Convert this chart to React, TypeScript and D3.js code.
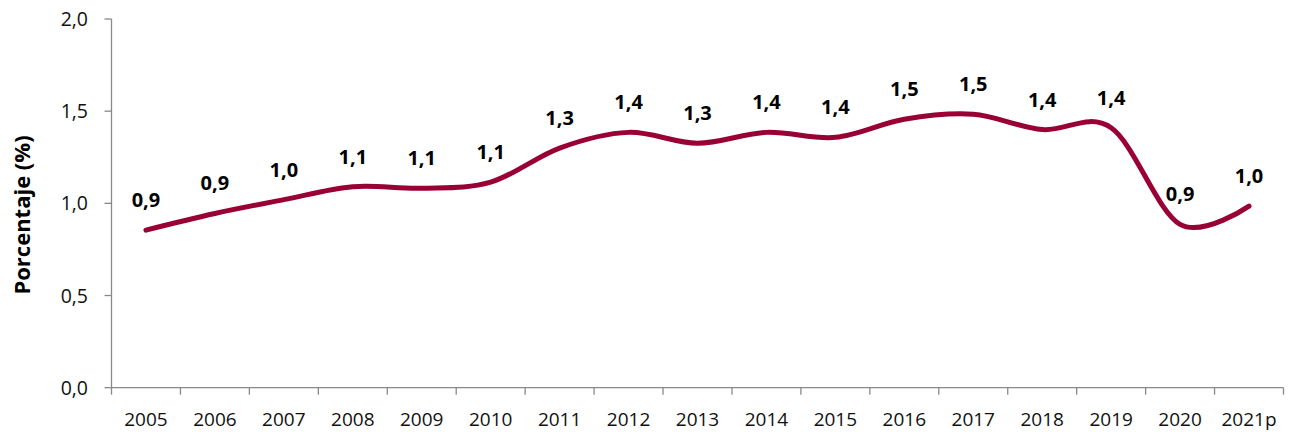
import React from "react";
import * as d3 from "d3";

const categories = ["2005","2006","2007","2008","2009","2010","2011","2012","2013","2014","2015","2016","2017","2018","2019","2020","2021p"];
const values = [0.855, 0.945, 1.02, 1.09, 1.082, 1.115, 1.30, 1.385, 1.326, 1.385, 1.358, 1.456, 1.483, 1.40, 1.41, 0.886, 0.985];
const yTicks = [0, 0.5, 1.0, 1.5, 2.0];
const yTitle = "Porcentaje (%)";

const W = 1290, H = 432;
const left = 111.5, right = 1283.5, top = 19, bottom = 387.7;
const font = "'Open Sans', 'Noto Sans', sans-serif";
const lineColor = "#990033";
const axisColor = "#898989";

export default function App() {
  const x = d3.scaleBand<string>().domain(categories).range([left, right]);
  const y = d3.scaleLinear().domain([0, 2]).range([bottom, top]);
  const fmt = (v: number) => v.toFixed(1).replace(".", ",");
  const pts: [number, number][] = values.map((v, i) => [x(categories[i])! + x.bandwidth() / 2, y(v)]);
  const line = d3.line<[number, number]>().x(d => d[0]).y(d => d[1]).curve(d3.curveCatmullRom.alpha(0));
  const path = line(pts) || "";
  const tickXs = d3.range(categories.length + 1).map(i => left + i * x.bandwidth());

  return (
    <div style={{ position: "absolute", left: 0, top: 0 }}>
      <svg width={W} height={H} style={{ display: "block", background: "#fff" }}>
        <line x1={left} x2={left} y1={top} y2={bottom} stroke={axisColor} strokeWidth={1.3} />
        {yTicks.map(t => (
          <g key={t}>
            <line x1={left - 7} x2={left} y1={y(t)} y2={y(t)} stroke={axisColor} strokeWidth={1.3} />
            <text x={88} y={y(t)} dy="0.36em" textAnchor="end" fontFamily={font} fontSize={19.5} fill="#111">{fmt(t)}</text>
          </g>
        ))}
        <line x1={left} x2={right} y1={bottom} y2={bottom} stroke={axisColor} strokeWidth={1.3} />
        {tickXs.map((tx, i) => (
          <line key={i} x1={tx} x2={tx} y1={bottom} y2={bottom + 7} stroke={axisColor} strokeWidth={1.3} />
        ))}
        {categories.map(c => (
          <text key={c} x={x(c)! + x.bandwidth() / 2} y={426} textAnchor="middle" fontFamily={font} fontSize={19} fill="#111">{c}</text>
        ))}
        <text transform={`translate(30,215) rotate(-90)`} textAnchor="middle" fontFamily={font} fontSize={22} fontWeight="bold" fill="#000">{yTitle}</text>
        <path d={path} fill="none" stroke={lineColor} strokeWidth={5} strokeLinecap="round" strokeLinejoin="round" />
        {pts.map((p, i) => (
          <text key={i} x={p[0]} y={p[1] - 23} textAnchor="middle" fontFamily={font} fontSize={20} fontWeight="bold" fill="#000">{fmt(Math.round(values[i] * 10) / 10)}</text>
        ))}
      </svg>
    </div>
  );
}
